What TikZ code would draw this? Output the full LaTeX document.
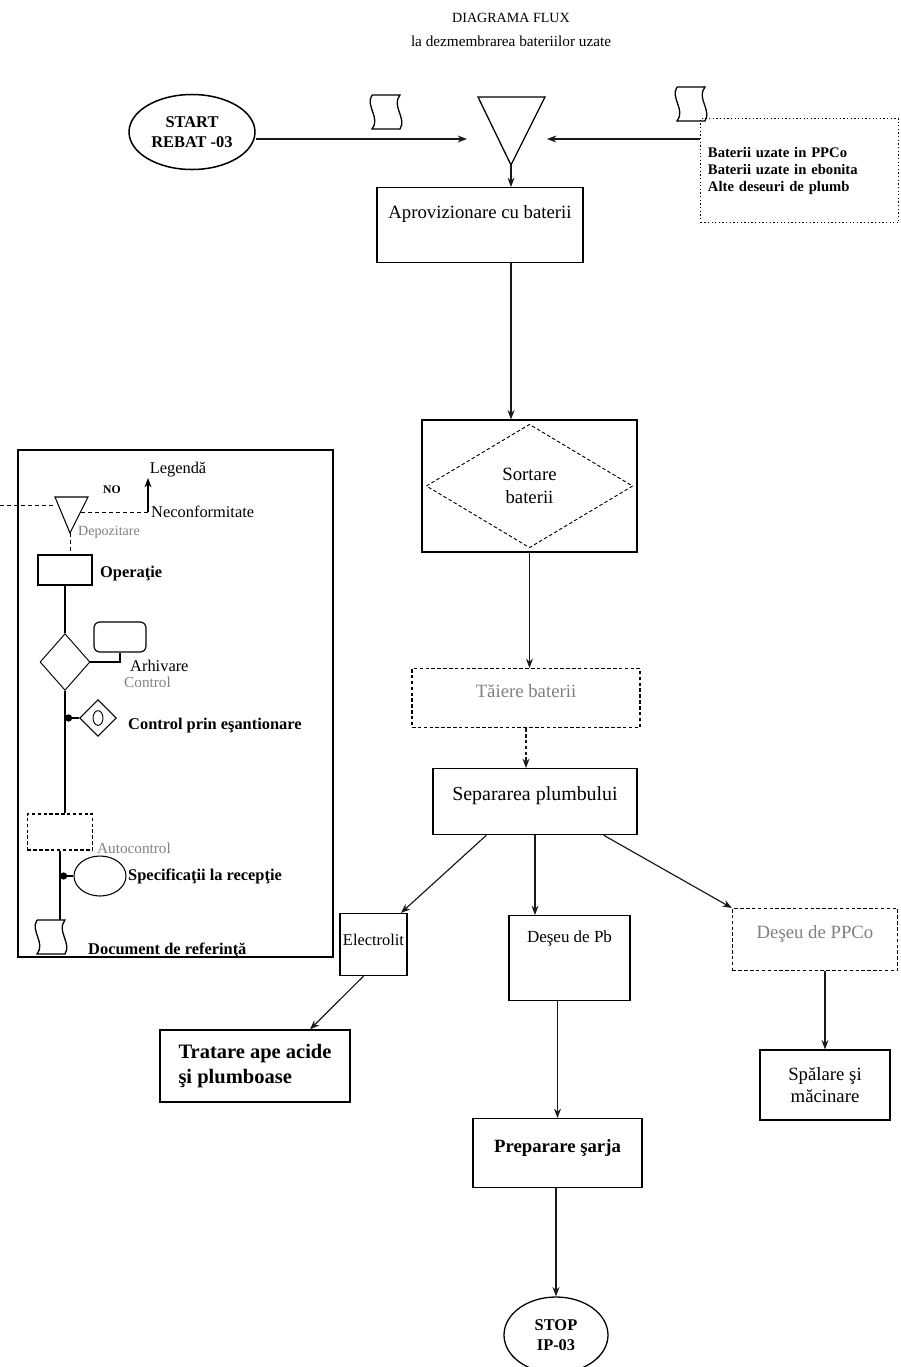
\documentclass[tikz,border=0pt]{standalone}
\usepackage{fontspec}
\setmainfont{Liberation Serif}
\usetikzlibrary{arrows,arrows.meta,calc,shapes.geometric}
\definecolor{FaintClr}{gray}{0.5}
\definecolor{LineClr}{gray}{0.1}

\tikzset{docsym/.pic={\draw[line width=1.1pt] (-15,-17) -- (13,-17) .. controls (4,-6) and (20,6) .. (13,17) -- (-15,17) .. controls (-6,6) and (-22,-6) .. (-15,-17);}}

\begin{document}
\begin{tikzpicture}[x=0.03cm,y=-0.03cm,>={Stealth[length=8pt,width=6pt]},
  every node/.style={font=\fontsize{16}{19}\selectfont},
  box/.style={draw,line width=1pt,inner sep=0pt},
  tbox/.style n args={3}{box,minimum width=#1,text height=#2,text depth=#3},
  faint/.style={text=FaintClr},
  legtxt/.style={anchor=west,inner sep=0pt,font=\fontsize{14}{16}\selectfont\bfseries},
  flow/.style={->,line width=1pt,color=LineClr}]

\useasboundingbox (0,0) rectangle (901,1367);

\node (title) at (511,18) {\fontsize{12}{14}\selectfont DIAGRAMA FLUX};
\node (subtitle) at (511,41) {\fontsize{13}{15}\selectfont la dezmembrarea bateriilor uzate};

\node[ellipse,draw,line width=1.3pt,minimum width=3.75cm,minimum height=2.25cm,align=center,font=\fontsize{14}{17}\selectfont\bfseries] (start) at (192,132) {START\\REBAT -03};
\pic at (387,112) {docsym};
\pic at (692,104) {docsym};

\coordinate (trL) at (478,97);
\coordinate (trR) at (545,97);
\coordinate (trB) at (511,165);
\draw[line width=1.1pt] (trL) -- (trR) -- (trB) -- cycle;
\coordinate (trIn) at (467,139);
\coordinate (trOut) at (547,139);

\node[draw,dotted,line width=1.1pt,anchor=north west,minimum width=5.94cm,minimum height=3.12cm,align=left,text width=5.5cm,font=\fontsize{12.5}{14.5}\selectfont\bfseries] (supply) at (700,118) {Baterii uzate in PPCo\\Baterii uzate in ebonita\\Alte deseuri de plumb};

\node[tbox={6.18cm}{0.93cm}{1.32cm},anchor=north] (aprov) at (480,187) {Aprovizionare cu baterii};
\node[box,minimum width=6.45cm,minimum height=3.96cm,align=center] (sort) at (529.5,486) {Sortare\\baterii};
\draw[densely dashed,line width=0.8pt] ([xshift=0.15cm]sort.west) -- ([yshift=-0.15cm]sort.north) -- ([xshift=-0.15cm]sort.east) -- ([yshift=0.15cm]sort.south) -- cycle;
\node[tbox={6.84cm}{0.87cm}{0.9cm},densely dashed,faint,anchor=north] (cut) at (526,668) {Tăiere baterii};
\node[tbox={6.12cm}{0.96cm}{1.02cm},anchor=north,font=\fontsize{17}{20}\selectfont] (separ) at (535,768) {Separarea plumbului};

\node[tbox={2.01cm}{0.96cm}{0.9cm},anchor=north,font=\fontsize{14}{17}\selectfont] (electro) at (373.5,913) {Electrolit};
\node[tbox={3.63cm}{0.81cm}{1.74cm},anchor=north,font=\fontsize{14.5}{17}\selectfont] (pbwaste) at (569.5,915) {Deşeu de Pb};
\node[tbox={4.95cm}{0.9cm}{0.96cm},densely dashed,faint,anchor=north] (ppwaste) at (815,908) {Deşeu de PPCo};

\node[box,minimum width=5.7cm,minimum height=2.16cm,align=left,font=\fontsize{17.5}{21}\selectfont\bfseries] (acid) at (255,1066) {Tratare ape acide\\şi plumboase};
\node[box,minimum width=3.9cm,minimum height=2.1cm,align=center] (wash) at (825,1085) {Spălare şi\\măcinare};
\node[tbox={5.07cm}{1.02cm}{1.05cm},anchor=north,font=\fontsize{16}{19}\selectfont\bfseries] (charge) at (557.5,1118) {Preparare şarja};
\node[ellipse,draw,line width=1.1pt,minimum width=3.12cm,minimum height=2.28cm,align=center,font=\fontsize{14}{17}\selectfont\bfseries] (stop) at (556,1335) {STOP\\IP-03};

\draw[flow] (start.east|-trIn) -- (trIn);
\draw[flow] (supply.west|-trOut) -- (trOut);
\draw[flow] (trB) -- (trB|-aprov.north);
\draw[flow] (trB|-aprov.south) -- (trB|-sort.north);
\draw[flow] (sort.south) -- (sort.south|-cut.north);
\draw[flow,densely dashed] (cut.south) -- (cut.south|-separ.north);
\draw[flow] ([xshift=1.62cm]separ.south west) -- ([xshift=-0.2cm]electro.north east);
\draw[flow] (separ.south) -- (separ.south|-pbwaste.north);
\draw[flow] ([xshift=-1.02cm]separ.south east) -- (ppwaste.north west);
\draw[flow] (wash.north|-ppwaste.south) -- (wash.north);
\draw[flow] ([xshift=-0.3cm]electro.south) -- ([xshift=1.65cm]acid.north);
\draw[flow] (charge.north|-pbwaste.south) -- (charge.north);
\draw[flow] (stop|-charge.south) -- (stop.north);

\node[draw,line width=1pt,minimum width=9.45cm,minimum height=15.21cm] (legend) at (175.5,703.5) {};
\node (legtitle) at (178,470) {\fontsize{14}{16}\selectfont Legendă};

\coordinate (dpL) at (55,497);
\coordinate (dpR) at (88,497);
\coordinate (dpB) at (70,533);
\draw[line width=0.9pt] (dpL) -- (dpR) -- (dpB) -- cycle;
\draw[dashed] (0,505) -- (55,505);
\coordinate (ncf) at (148,512);
\draw[dashed] (81,512) -- (ncf);
\draw[->,line width=0.9pt] (ncf) -- (148,478);
\node[legtxt,font=\fontsize{10}{12}\selectfont\bfseries] (nolbl) at (103,490) {NO};
\node[legtxt,font=\fontsize{14}{16}\selectfont] (ncflbl) at (151,512) {Neconformitate};
\node[legtxt,faint,font=\fontsize{12}{14}\selectfont] (deplbl) at (78,532) {Depozitare};

\node[box,minimum width=1.62cm,minimum height=0.9cm] (opbox) at (65,570) {};
\draw[dashed] (dpB) -- (opbox.north-|dpB);
\node[legtxt] (oplbl) at (100,574) {Operaţie};

\node[diamond,draw,line width=0.8pt,minimum width=1.5cm,minimum height=1.7cm,inner sep=0pt] (ctrl) at (65,662) {};
\node[box,rounded corners=5pt,minimum width=1.56cm,minimum height=0.9cm] (arh) at (120,637) {};
\draw[line width=0.9pt] (opbox.south) -- (ctrl.north);
\draw[line width=0.9pt] (ctrl.east) -| (arh.south);
\node[legtxt,font=\fontsize{14}{16}\selectfont] (arhlbl) at (130,666) {Arhivare};
\node[legtxt,faint,font=\fontsize{13}{15}\selectfont] (ctrllbl) at (124,682) {Control};

\node[diamond,draw,line width=0.8pt,minimum width=1.1cm,minimum height=1.1cm,inner sep=0pt] (esant) at (98,718) {};
\draw[line width=0.8pt] (esant) ellipse[x radius=0.15cm,y radius=0.22cm];
\node[legtxt] (esantlbl) at (128,726) {Control prin eşantionare};

\node[box,densely dashed,minimum width=1.95cm,minimum height=1.08cm] (auto) at (60,832) {};
\node[legtxt,faint,font=\fontsize{13}{15}\selectfont] (autolbl) at (97,848) {Autocontrol};
\draw[line width=0.9pt] (ctrl.south) -- (ctrl.south|-auto.north);
\draw[-*,line width=0.9pt] (esant.west) -- (esant.west-|ctrl.south);

\node[ellipse,draw,line width=0.9pt,minimum width=1.56cm,minimum height=1.2cm] (spec) at (100,876) {};
\node[legtxt] (speclbl) at (128,876) {Specificaţii la recepţie};
\coordinate (legdoc) at (52,920);
\draw[line width=0.9pt] (auto.south) -- (auto.south|-legdoc);
\draw[-*,line width=0.9pt] (spec.west) -- (spec.west-|auto.south);
\pic at (52,937) {docsym};
\node[legtxt] (doclbl) at (88,950) {Document de referinţă};

\end{tikzpicture}
\end{document}
